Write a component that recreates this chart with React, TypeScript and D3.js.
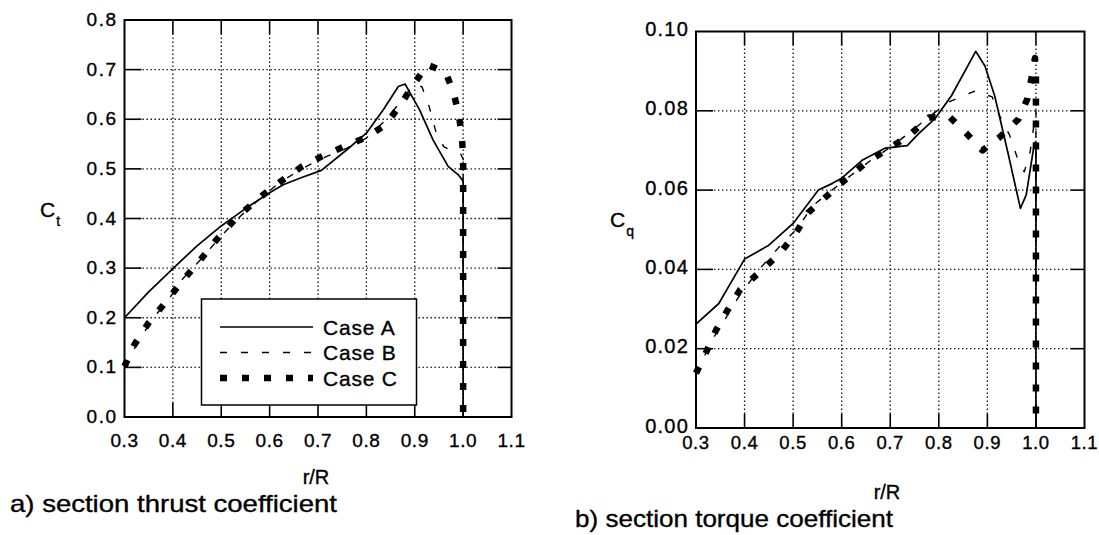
import React from "react";
import * as d3 from "d3";

// r/R tick values shared by both panels
const RR_TICKS = [0.3, 0.4, 0.5, 0.6, 0.7, 0.8, 0.9, 1.0, 1.1];
const CT_TICKS = [0.0, 0.1, 0.2, 0.3, 0.4, 0.5, 0.6, 0.7, 0.8];
const CQ_TICKS = [0.0, 0.02, 0.04, 0.06, 0.08, 0.1];

// Section thrust coefficient
const CT_A_R = [0.3, 0.35, 0.4, 0.45, 0.5, 0.55, 0.6, 0.628, 0.665, 0.707, 0.759, 0.8, 0.835, 0.866, 0.88, 0.91, 0.938, 0.969, 0.99, 1.0, 1.0];
const CT_A = [0.2, 0.252, 0.299, 0.345, 0.385, 0.42, 0.452, 0.468, 0.482, 0.497, 0.538, 0.572, 0.619, 0.666, 0.671, 0.619, 0.558, 0.505, 0.488, 0.475, 0.0];

const CT_B_R = [0.3, 0.33, 0.36, 0.39, 0.42, 0.46, 0.5, 0.54, 0.58, 0.62, 0.67, 0.71, 0.76, 0.8, 0.84, 0.87, 0.9, 0.915, 0.93, 0.945, 0.96, 0.98, 0.995, 1.0, 1.0];
const CT_B = [0.1, 0.155, 0.2, 0.235, 0.278, 0.32, 0.365, 0.405, 0.44, 0.472, 0.502, 0.522, 0.542, 0.562, 0.598, 0.635, 0.672, 0.665, 0.625, 0.57, 0.545, 0.535, 0.53, 0.52, 0.0];

const CT_C_R = [0.3, 0.32, 0.35, 0.384, 0.417, 0.453, 0.49, 0.531, 0.574, 0.622, 0.667, 0.712, 0.754, 0.798, 0.84, 0.871, 0.897, 0.926, 0.964, 0.981, 0.991, 0.997, 1.0, 1.0];
const CT_C = [0.102, 0.145, 0.19, 0.23, 0.271, 0.312, 0.357, 0.401, 0.438, 0.474, 0.505, 0.527, 0.545, 0.563, 0.589, 0.63, 0.669, 0.71, 0.695, 0.65, 0.61, 0.568, 0.527, 0.0];

// Section torque coefficient
const CQ_A_R = [0.3, 0.347, 0.4, 0.45, 0.5, 0.552, 0.581, 0.6, 0.642, 0.69, 0.735, 0.758, 0.792, 0.826, 0.876, 0.895, 0.915, 0.942, 0.968, 0.98, 0.997, 1.0, 1.0];
const CQ_A = [0.0262, 0.0314, 0.0426, 0.0461, 0.0516, 0.06, 0.0617, 0.063, 0.0675, 0.0706, 0.0712, 0.0742, 0.078, 0.0838, 0.095, 0.0913, 0.0838, 0.0696, 0.0554, 0.0588, 0.072, 0.072, 0.0];

const CQ_B_R = [0.3, 0.33, 0.36, 0.39, 0.43, 0.47, 0.51, 0.54, 0.58, 0.62, 0.66, 0.7, 0.74, 0.78, 0.82, 0.85, 0.875, 0.91, 0.925, 0.946, 0.962, 0.976, 0.988, 1.0, 1.0];
const CQ_B = [0.0135, 0.0215, 0.0275, 0.0335, 0.04, 0.0455, 0.0505, 0.056, 0.06, 0.0638, 0.0675, 0.0708, 0.0745, 0.0785, 0.0822, 0.0838, 0.085, 0.0835, 0.0788, 0.0738, 0.068, 0.0646, 0.0696, 0.08, 0.0];

const CQ_C_R = [0.3, 0.322, 0.341, 0.365, 0.391, 0.43, 0.472, 0.505, 0.531, 0.572, 0.609, 0.651, 0.695, 0.738, 0.78, 0.821, 0.856, 0.89, 0.925, 0.964, 0.982, 0.991, 0.998, 1.0, 1.0];
const CQ_C = [0.0138, 0.0194, 0.0246, 0.0297, 0.0349, 0.0392, 0.044, 0.049, 0.0543, 0.0588, 0.0628, 0.067, 0.0703, 0.0737, 0.0783, 0.0786, 0.0744, 0.07, 0.0733, 0.0779, 0.0829, 0.0883, 0.0933, 0.09, 0.0];

const CASE_NAMES = ["Case A", "Case B", "Case C"];

const FONT = "'Liberation Sans', Arial, Helvetica, sans-serif";

type Style = { width: number; dash?: string };
const STYLES: Style[] = [
  { width: 1.7 },
  { width: 1.4, dash: "7,14" },
  { width: 6.5, dash: "7,15" },
];

type Series = { r: number[]; v: number[] };

type PanelProps = {
  xRange: [number, number];
  yRange: [number, number];
  yMax: number;
  yTicks: number[];
  yFmt: (v: number) => string;
  yFont: number;
  yLetter: number;
  yShift: number;
  xFont: number;
  xLabelBase: number;
  series: Series[];
  sub: string;
  symX: number;
  symY: number;
  rRx: number;
  rRy: number;
  caption: string;
  capX: number;
  capY: number;
  capLen: number;
  legend?: boolean;
};

function Panel(p: PanelProps) {
  const x = d3.scaleLinear().domain([0.3, 1.1]).range(p.xRange);
  const y = d3.scaleLinear().domain([0, p.yMax]).range(p.yRange);
  const [xl, xr] = p.xRange;
  const [yb, yt] = p.yRange;
  const innerX = RR_TICKS.slice(1, -1);
  const innerY = p.yTicks.slice(1, -1);
  const tick = 14;
  const line = (s: Series) =>
    d3
      .line<number>()
      .x((_, i) => x(s.r[i]))
      .y((d) => y(d))(s.v) || "";

  return (
    <g>
      {/* dotted grid */}
      <g stroke="#111" strokeWidth={1.3} strokeDasharray="1.4,2.6">
        {innerX.map((t) => (
          <line key={"gx" + t} x1={x(t)} x2={x(t)} y1={yb - tick} y2={yt + tick} />
        ))}
        {innerY.map((t) => (
          <line key={"gy" + t} x1={xl + tick} x2={xr - tick} y1={y(t)} y2={y(t)} />
        ))}
      </g>
      {/* inward ticks on all four sides */}
      <g stroke="#000" strokeWidth={1.6}>
        {innerX.map((t) => (
          <g key={"tx" + t}>
            <line x1={x(t)} x2={x(t)} y1={yb} y2={yb - tick} />
            <line x1={x(t)} x2={x(t)} y1={yt} y2={yt + tick} />
          </g>
        ))}
        {innerY.map((t) => (
          <g key={"ty" + t}>
            <line x1={xl} x2={xl + tick + 3} y1={y(t)} y2={y(t)} />
            <line x1={xr} x2={xr - tick} y1={y(t)} y2={y(t)} />
          </g>
        ))}
      </g>
      <rect x={xl} y={yt} width={xr - xl} height={yb - yt} fill="none" stroke="#000" strokeWidth={2} />

      {/* curves */}
      {p.series.map((s, i) => (
        <path
          key={"s" + i}
          d={line(s)}
          fill="none"
          stroke="#000"
          strokeWidth={STYLES[i].width}
          strokeDasharray={STYLES[i].dash}
          strokeLinejoin="round"
        />
      ))}

      {/* tick labels and titles */}
      <g fontFamily={FONT} fill="#000" stroke="#000" strokeWidth={0.35}>
        {p.yTicks.map((t) => (
          <text
            key={"ly" + t}
            x={xl - 7}
            y={y(t) + p.yShift}
            fontSize={p.yFont}
            letterSpacing={p.yLetter}
            textAnchor="end"
          >
            {p.yFmt(t)}
          </text>
        ))}
        {RR_TICKS.map((t) => (
          <text key={"lx" + t} x={x(t)} y={p.xLabelBase} fontSize={p.xFont} textAnchor="middle" letterSpacing={0.6}>
            {t.toFixed(1)}
          </text>
        ))}
        <text x={p.rRx} y={p.rRy} fontSize={20} textAnchor="middle">
          r/R
        </text>
        <text x={p.symX} y={p.symY} fontSize={21}>
          C
          <tspan dx={1} dy={9} fontSize={14}>
            {p.sub}
          </tspan>
        </text>
        <text x={p.capX} y={p.capY} fontSize={24} textLength={p.capLen} lengthAdjust="spacingAndGlyphs">
          {p.caption}
        </text>
      </g>

      {p.legend && (
        <g>
          <rect x={201.5} y={299} width={215} height={106} fill="#fff" stroke="#000" strokeWidth={1.5} />
          {CASE_NAMES.map((n, i) => {
            const ly = 327 + i * 25.5;
            return (
              <g key={n}>
                <line
                  x1={220}
                  x2={313}
                  y1={ly}
                  y2={ly}
                  stroke="#000"
                  strokeWidth={STYLES[i].width}
                  strokeDasharray={STYLES[i].dash}
                />
                <text
                  x={323}
                  y={ly + 7.5}
                  fontFamily={FONT}
                  fontSize={21}
                  letterSpacing={0.8}
                  stroke="#000"
                  strokeWidth={0.35}
                >
                  {n}
                </text>
              </g>
            );
          })}
        </g>
      )}
    </g>
  );
}

export default function App() {
  return (
    <svg
      width={1099}
      height={535}
      viewBox="0 0 1099 535"
      style={{ position: "absolute", left: 0, top: 0, background: "#fff" }}
    >
      <rect width={1099} height={535} fill="#fff" />
      <Panel
        xRange={[124.5, 511.5]}
        yRange={[417, 20]}
        yMax={0.8}
        yTicks={CT_TICKS}
        yFmt={(v) => v.toFixed(1)}
        yFont={19}
        yLetter={1.5}
        yShift={6}
        xFont={19}
        xLabelBase={447}
        series={[
          { r: CT_A_R, v: CT_A },
          { r: CT_B_R, v: CT_B },
          { r: CT_C_R, v: CT_C },
        ]}
        sub="t"
        symX={40}
        symY={217}
        rRx={316}
        rRy={484}
        caption="a) section thrust coefficient"
        capX={10}
        capY={512}
        capLen={327}
        legend
      />
      <Panel
        xRange={[696, 1084.5]}
        yRange={[428, 31.5]}
        yMax={0.1}
        yTicks={CQ_TICKS}
        yFmt={(v) => v.toFixed(2)}
        yFont={20}
        yLetter={1.2}
        yShift={4.5}
        xFont={18.5}
        xLabelBase={449}
        series={[
          { r: CQ_A_R, v: CQ_A },
          { r: CQ_B_R, v: CQ_B },
          { r: CQ_C_R, v: CQ_C },
        ]}
        sub="q"
        symX={610}
        symY={227}
        rRx={887}
        rRy={499}
        caption="b) section torque coefficient"
        capX={575}
        capY={527}
        capLen={318}
      />
    </svg>
  );
}
